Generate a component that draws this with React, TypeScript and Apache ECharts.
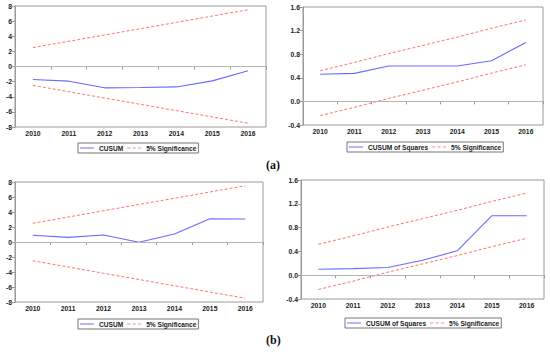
import React, { useEffect, useRef } from "react";
import * as echarts from "echarts";

const years = ["2010", "2011", "2012", "2013", "2014", "2015", "2016"];
const cusumA = [-1.72, -1.94, -2.82, -2.78, -2.7, -1.9, -0.57];
const cusumB = [0.89, 0.62, 0.93, -0.04, 1.07, 3.1, 3.07];
const cusumUpper = [2.5, 3.33, 4.17, 5.0, 5.83, 6.67, 7.5];
const cusumLower = [-2.5, -3.33, -4.17, -5.0, -5.83, -6.67, -7.5];
const cusumSqA = [0.46, 0.475, 0.6, 0.6, 0.6, 0.69, 1.0];
const cusumSqB = [0.1, 0.11, 0.13, 0.25, 0.41, 1.0, 1.0];
const sqUpper = [0.52, 0.66, 0.81, 0.95, 1.09, 1.24, 1.38];
const sqLower = [-0.24, -0.1, 0.05, 0.19, 0.33, 0.48, 0.62];

const BLUE = "#6a6aff";
const RED = "#ff6262";
const FONT = "Liberation Sans";

const SOLID_ICON = "path://M0,0h14v1h-14z";
const DASH_ICON = "path://M0,0h3v1h-3z M5,0h3v1h-3z M10,0h3v1h-3z";

export default function App() {
  const ref = useRef<HTMLDivElement>(null);
  useEffect(() => {
    if (!ref.current) return;
    const chart = echarts.init(ref.current, undefined, { renderer: "svg" });

    const grids = [
      { left: 15, top: 6, width: 251, height: 121 },
      { left: 303, top: 7, width: 240, height: 118 },
      { left: 15, top: 182, width: 248, height: 120 },
      { left: 301, top: 180, width: 243, height: 119 },
    ].map((g) => ({ ...g, show: true, borderColor: "#9a9a9a", borderWidth: 1 }));

    const axisLabelStyle = { fontSize: 6.8, fontWeight: "bold" as const, color: "#222", fontFamily: FONT };

    const xAxis = grids.map((_, i) => ({
      type: "category" as const,
      gridIndex: i,
      data: years,
      boundaryGap: true,
      axisLine: { lineStyle: { color: "#9a9a9a", width: 1 } },
      axisTick: { show: true, length: 3, lineStyle: { color: "#9a9a9a" } },
      axisLabel: { ...axisLabelStyle, margin: 3, interval: 0 },
      splitLine: { show: false },
    }));

    const yAxis = grids.map((_, i) => {
      const sq = i % 2 === 1;
      return {
        type: "value" as const,
        gridIndex: i,
        min: sq ? -0.4 : -8,
        max: sq ? 1.6 : 8,
        interval: sq ? 0.4 : 2,
        axisLine: { show: true, lineStyle: { color: "#9a9a9a", width: 1 } },
        axisTick: { show: true, length: 3, lineStyle: { color: "#9a9a9a" } },
        axisLabel: {
          ...axisLabelStyle,
          margin: 3,
          formatter: (v: number) => (sq ? v.toFixed(1) : String(Math.round(v))),
        },
        splitLine: { show: false },
      };
    });

    const mainNames = ["CUSUM", "CUSUM of Squares", "CUSUM", "CUSUM of Squares"];
    const mainData = [cusumA, cusumSqA, cusumB, cusumSqB];
    const series: any[] = [];
    grids.forEach((_, i) => {
      const sq = i % 2 === 1;
      series.push({
        type: "line",
        name: mainNames[i],
        xAxisIndex: i,
        yAxisIndex: i,
        data: mainData[i],
        symbol: "none",
        lineStyle: { color: BLUE, width: 1.1 },
        itemStyle: { color: BLUE },
        z: 3,
        markLine: {
          silent: true,
          symbol: "none",
          label: { show: false },
          lineStyle: { color: "#b5b5b5", width: 1, type: "solid" },
          data: [{ yAxis: 0 }],
        },
      });
      [sq ? sqUpper : cusumUpper, sq ? sqLower : cusumLower].forEach((d) => {
        series.push({
          type: "line",
          name: "5% Significance",
          xAxisIndex: i,
          yAxisIndex: i,
          data: d,
          symbol: "none",
          lineStyle: { color: RED, width: 0.9, type: [3, 2] },
          itemStyle: { color: RED },
          z: 2,
        });
      });
    });

    const legendPos = [
      { left: 78, top: 143 },
      { left: 347, top: 142 },
      { left: 78, top: 319 },
      { left: 345, top: 318 },
    ];
    const legend = legendPos.map((p, i) => ({
      ...p,
      orient: "horizontal" as const,
      data: [
        { name: mainNames[i], icon: SOLID_ICON, itemStyle: { color: BLUE } },
        { name: "5% Significance", icon: DASH_ICON, itemStyle: { color: "#ff8a8a" } },
      ],
      itemWidth: 14,
      itemHeight: 1,
      symbolKeepAspect: false,
      itemGap: 4,
      padding: [1, 2, 1, 2],
      borderColor: "#777",
      borderWidth: 1,
      textStyle: { fontSize: 6.6, fontWeight: "bold" as const, color: "#222", fontFamily: FONT, lineHeight: 8 },
      selectedMode: false,
    }));

    chart.setOption({
      animation: false,
      backgroundColor: "#ffffff",
      grid: grids,
      xAxis,
      yAxis,
      legend,
      series,
      graphic: [
        {
          type: "text",
          left: 266,
          top: 159,
          style: { text: "(a)", font: "bold 12px 'Liberation Serif'", fill: "#111" },
        },
        {
          type: "text",
          left: 266,
          top: 334,
          style: { text: "(b)", font: "bold 12px 'Liberation Serif'", fill: "#111" },
        },
      ],
    });
    return () => chart.dispose();
  }, []);
  return (
    <div
      ref={ref}
      style={{ position: "fixed", left: 0, top: 0, width: 550, height: 352, background: "#fff" }}
    />
  );
}
